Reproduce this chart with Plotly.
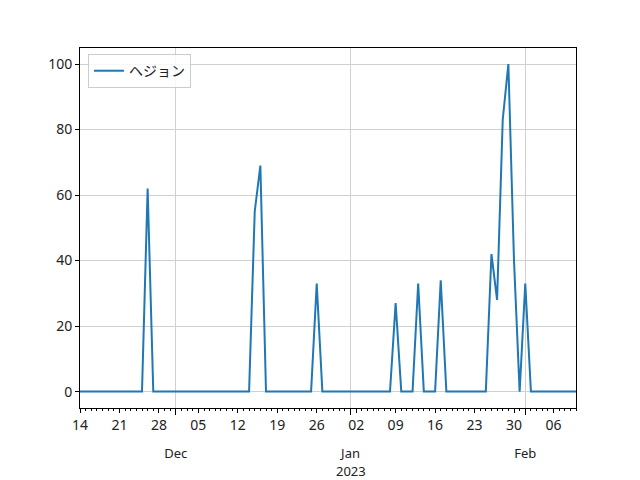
import pandas as pd
import plotly.graph_objects as go

start_date = "2022-11-14"
end_date = "2023-02-10"
dates = pd.date_range(start_date, end_date, freq="D")

values = [0, 0, 0, 0, 0, 0, 0, 0, 0, 0, 0, 0,
          62,
          0, 0, 0, 0, 0, 0, 0, 0, 0, 0, 0, 0, 0, 0, 0, 0, 0, 0,
          55, 69,
          0, 0, 0, 0, 0, 0, 0, 0, 0,
          33,
          0, 0, 0, 0, 0, 0, 0, 0, 0, 0, 0, 0, 0,
          27,
          0, 0, 0,
          33,
          0, 0, 0,
          34,
          0, 0, 0, 0, 0, 0, 0, 0,
          42, 28, 83, 100, 40,
          0,
          33,
          0, 0, 0, 0, 0, 0, 0, 0, 0]

series_name = "ヘジョン"

week_ticks = ["2022-11-14", "2022-11-21", "2022-11-28", "2022-12-05", "2022-12-12",
              "2022-12-19", "2022-12-26", "2023-01-02", "2023-01-09", "2023-01-16",
              "2023-01-23", "2023-01-30", "2023-02-06"]
week_labels = ["14", "21", "28", "05", "12", "19", "26", "02", "09", "16", "23", "30", "06"]
month_ticks = ["2022-12-01", "2023-01-01", "2023-02-01"]
month_labels = ["Dec", "Jan", "Feb"]
year_label = "2023"
year_tick = "2023-01-01"
y_ticks = [0, 20, 40, 60, 80, 100]

FONT = "Noto Sans, Noto Sans CJK JP"
fig = go.Figure()
fig.add_trace(go.Scatter(x=dates, y=values, mode="lines", name=series_name,
                         line=dict(color="#1f77b4", width=2), showlegend=True))

xrange = [start_date, end_date]
fig.update_layout(
    width=632, height=472,
    margin=dict(l=72, r=64, t=40, b=72, autoexpand=False),
    plot_bgcolor="white", paper_bgcolor="white",
    font=dict(family=FONT, size=14, color="#222222"),
    showlegend=True,
    legend=dict(x=0.016, y=0.983, xanchor="left", yanchor="top",
                bgcolor="rgba(255,255,255,0.8)", bordercolor="#cccccc", borderwidth=1,
                font=dict(family="Noto Sans CJK JP", size=14)),
    xaxis=dict(type="date", range=xrange, tickmode="array", tickvals=week_ticks,
               ticktext=week_labels, ticks="outside", ticklen=4, tickcolor="black",
               showgrid=False, showline=True, linecolor="black", linewidth=1, mirror=True,
               zeroline=False, tickangle=0, automargin=False,
               minor=dict(dtick=86400000, tick0=start_date, ticks="outside", ticklen=2,
                          tickcolor="black", showgrid=False)),
    xaxis2=dict(type="date", range=xrange, overlaying="x", side="bottom",
                tickmode="array", tickvals=month_ticks, ticktext=month_labels,
                tickfont=dict(size=13),
                ticks="outside", ticklen=6, tickcolor="black", ticklabelstandoff=27,
                showgrid=True, gridcolor="#d0d0d0", gridwidth=1, showline=False,
                zeroline=False, tickangle=0, automargin=False),
    yaxis=dict(range=[-5.0, 104.9], tickmode="array", tickvals=y_ticks,
               ticks="outside", ticklen=4, tickcolor="black", automargin=False,
               showgrid=True, gridcolor="#d0d0d0", gridwidth=1,
               showline=True, linecolor="black", linewidth=1, mirror=True, zeroline=False),
)
fig.add_annotation(x=year_tick, xref="x", y=0, yref="paper", yshift=-63, borderpad=0,
                   text=year_label, showarrow=False, yanchor="middle",
                   font=dict(family=FONT, size=13, color="#222222"))
# invisible trace to activate xaxis2
fig.add_trace(go.Scatter(x=[start_date], y=[None], xaxis="x2", showlegend=False,
                         hoverinfo="skip", mode="lines"))
fig.write_html("out.html")
